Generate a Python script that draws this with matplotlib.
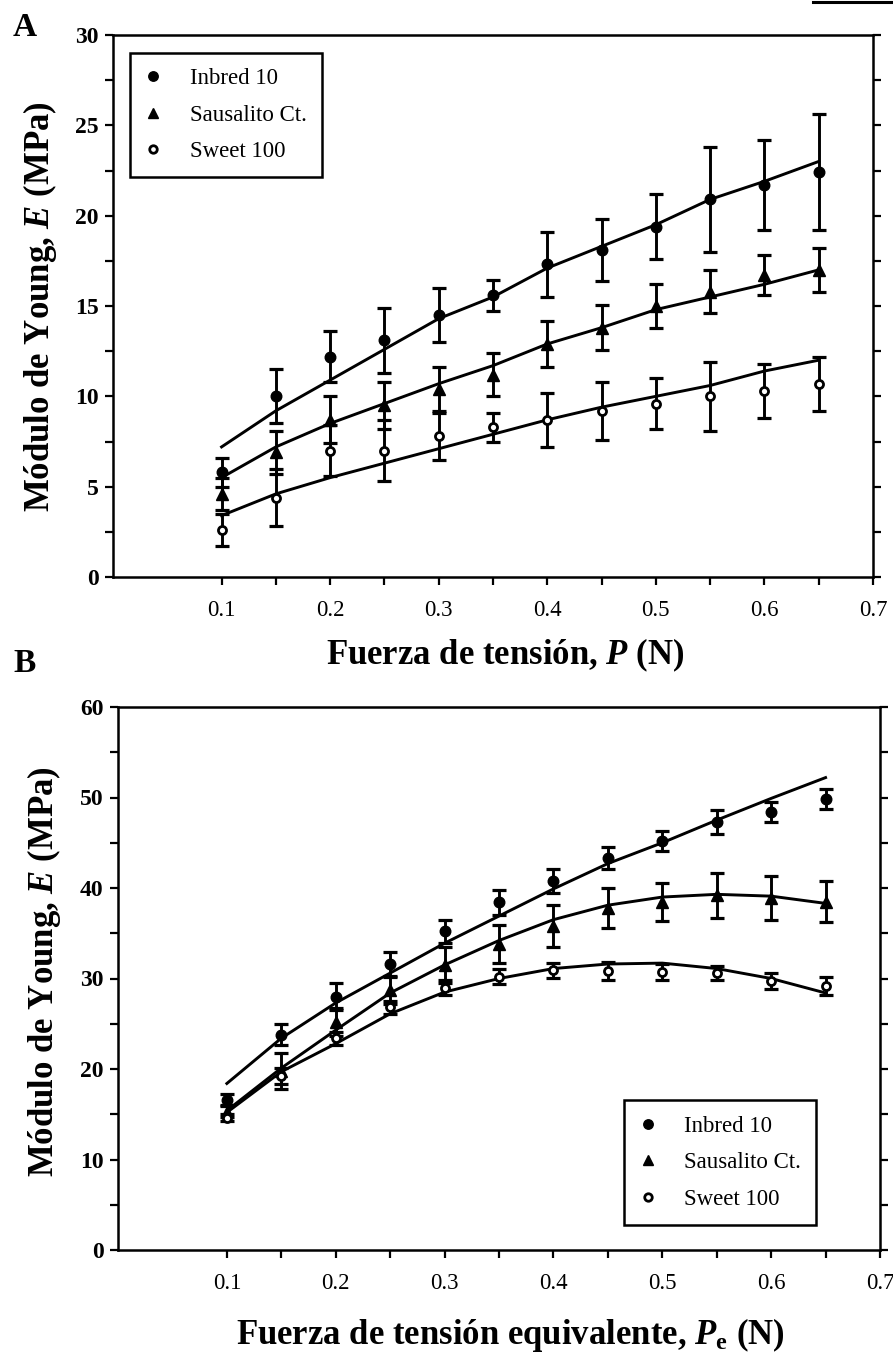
import matplotlib
matplotlib.use('Agg')
import matplotlib.pyplot as plt
from matplotlib.lines import Line2D
from matplotlib.ticker import FixedLocator, MultipleLocator

plt.rcParams['font.family'] = ['Liberation Serif', 'DejaVu Serif']
plt.rcParams['mathtext.fontset'] = 'custom'
plt.rcParams['mathtext.it'] = 'Liberation Serif:italic:bold'
plt.rcParams['mathtext.rm'] = 'Liberation Serif:bold'
plt.rcParams['mathtext.bf'] = 'Liberation Serif:bold'

# ---------------- data ----------------
x_force = [0.10, 0.15, 0.20, 0.25, 0.30, 0.35, 0.40, 0.45, 0.50, 0.55, 0.60, 0.65]
series_names = ['Inbred 10', 'Sausalito Ct.', 'Sweet 100']

# Panel A : Fuerza de tensión, P
a_inbred = [5.8, 10.0, 12.2, 13.1, 14.5, 15.6, 17.3, 18.1, 19.4, 20.9, 21.7, 22.4]
a_inbred_err = [0.8, 1.5, 1.4, 1.8, 1.5, 0.85, 1.8, 1.7, 1.8, 2.9, 2.5, 3.2]
a_inbred_fit = [7.2, 9.2, 10.9, 12.6, 14.3, 15.5, 17.1, 18.3, 19.5, 20.9, 21.9, 23.0]

a_saus = [4.6, 6.9, 8.7, 9.5, 10.4, 11.2, 12.9, 13.8, 15.0, 15.8, 16.7, 17.0]
a_saus_err = [0.9, 1.2, 1.3, 1.3, 1.2, 1.2, 1.25, 1.25, 1.2, 1.2, 1.1, 1.2]
a_saus_fit = [5.5, 7.2, 8.5, 9.6, 10.7, 11.7, 12.9, 13.8, 14.8, 15.5, 16.2, 17.0]

a_sweet = [2.6, 4.4, 7.0, 7.0, 7.8, 8.3, 8.7, 9.2, 9.6, 10.0, 10.3, 10.7]
a_sweet_err = [0.9, 1.6, 1.4, 1.7, 1.3, 0.8, 1.5, 1.6, 1.4, 1.9, 1.5, 1.5]
a_sweet_fit = [3.4, 4.6, 5.5, 6.3, 7.1, 7.9, 8.7, 9.4, 10.0, 10.6, 11.4, 12.0]

# Panel B : Fuerza de tensión equivalente, Pe
b_inbred = [16.6, 23.8, 28.0, 31.6, 35.2, 38.4, 40.8, 43.3, 45.2, 47.3, 48.4, 49.8]
b_inbred_err = [0.6, 1.2, 1.5, 1.3, 1.3, 1.4, 1.3, 1.2, 1.1, 1.3, 1.1, 1.1]
b_inbred_fit = [18.4, 23.4, 27.3, 30.6, 33.9, 36.9, 39.9, 42.7, 45.0, 47.5, 49.9, 52.2]

b_saus = [15.3, 19.8, 25.2, 28.7, 31.5, 33.8, 35.8, 37.8, 38.5, 39.2, 38.9, 38.5]
b_saus_err = [0.6, 2.0, 1.5, 1.5, 2.0, 2.1, 2.3, 2.2, 2.1, 2.5, 2.4, 2.3]
b_saus_fit = [15.4, 20.1, 24.3, 28.4, 31.5, 34.2, 36.5, 38.1, 39.0, 39.3, 39.1, 38.3]

b_sweet = [14.6, 19.2, 23.4, 26.8, 29.0, 30.2, 30.9, 30.8, 30.7, 30.6, 29.7, 29.2]
b_sweet_err = [0.4, 0.9, 0.7, 0.7, 0.8, 0.8, 0.8, 1.0, 0.9, 0.8, 0.9, 1.0]
b_sweet_fit = [15.2, 19.7, 22.8, 26.1, 28.5, 30.0, 31.1, 31.6, 31.7, 31.1, 30.0, 28.4]

x_major = [0.1, 0.2, 0.3, 0.4, 0.5, 0.6, 0.7]
x_minor = [0.15, 0.25, 0.35, 0.45, 0.55, 0.65]
x_labels = ['0.1', '0.2', '0.3', '0.4', '0.5', '0.6', '0.7']

# ---------------- figure ----------------
W, H = 893, 1360
fig = plt.figure(figsize=(W / 100, H / 100), dpi=100)


def px_axes(l, t, r, b):
    return fig.add_axes([l / W, 1 - b / H, (r - l) / W, (b - t) / H])


styles = [
    dict(marker='o', ms=7.6, mfc='black', mec='black', mew=1.0),
    dict(marker='^', ms=8.4, mfc='black', mec='black', mew=1.0),
    dict(marker='o', ms=5.8, mfc='white', mec='black', mew=2.0),
]


def draw_panel(ax, data, ymax, ymaj, ymin_step):
    for (vals, errs, fit), st in zip(data, styles):
        ax.plot(x_force, fit, color='black', lw=2.1, zorder=2)
        ax.errorbar(x_force, vals, yerr=errs, fmt='none', ecolor='black',
                    elinewidth=2.1, capsize=4.7, capthick=2.3, zorder=3)
        ax.plot(x_force, vals, linestyle='none', zorder=4, **st)
    ax.set_xlim(0, 0.7)
    ax.set_ylim(0, ymax)
    ax.xaxis.set_major_locator(FixedLocator(x_major))
    ax.xaxis.set_minor_locator(FixedLocator(x_minor))
    ax.yaxis.set_major_locator(MultipleLocator(ymaj))
    ax.yaxis.set_minor_locator(MultipleLocator(ymin_step))
    ax.set_xticklabels(x_labels)
    ax.tick_params(axis='both', which='both', direction='out', width=1.6,
                   length=5.5, top=False, right=True, labelright=False)
    ax.tick_params(axis='x', labelsize=16.5, pad=11)
    ax.tick_params(axis='y', labelsize=17, pad=5)
    for lab in ax.get_yticklabels():
        lab.set_fontweight('bold')
    for sp in ax.spines.values():
        sp.set_linewidth(1.8)


def legend(ax, **kw):
    handles = [Line2D([], [], linestyle='none', **st) for st in styles]
    handles[0].set_markersize(6.8)
    handles[1].set_markersize(7.8)
    handles[2].set_markersize(5.4)
    lg = ax.legend(handles, series_names, fontsize=16.5, frameon=True,
                   fancybox=False, edgecolor='black', framealpha=1,
                   handlelength=0.75, handletextpad=1.2, labelspacing=0.68,
                   borderpad=0.66, borderaxespad=0, **kw)
    lg.get_frame().set_linewidth(1.8)
    return lg


axA = px_axes(113, 35, 873, 577)
draw_panel(axA, [(a_inbred, a_inbred_err, a_inbred_fit),
                 (a_saus, a_saus_err, a_saus_fit),
                 (a_sweet, a_sweet_err, a_sweet_fit)], 30, 5, 2.5)
legend(axA, loc='upper left', bbox_to_anchor=(0.022, 0.967))

axB = px_axes(118, 707, 880, 1250)
draw_panel(axB, [(b_inbred, b_inbred_err, b_inbred_fit),
                 (b_saus, b_saus_err, b_saus_fit),
                 (b_sweet, b_sweet_err, b_sweet_fit)], 60, 10, 5)
legend(axB, loc='lower left', bbox_to_anchor=(0.664, 0.046))

# axis labels and panel letters
lab_kw = dict(fontsize=25, fontweight='bold', ha='center', va='center')
fig.text(40 / W, 1 - 307 / H, 'Módulo de Young, $E$ (MPa)', rotation=90, **lab_kw)
fig.text(505 / W, 1 - 655 / H, 'Fuerza de tensión, $P$ (N)', **lab_kw)
fig.text(44 / W, 1 - 972 / H, 'Módulo de Young, $E$ (MPa)', rotation=90, **lab_kw)
fig.text(510 / W, 1 - 1335 / H, 'Fuerza de tensión equivalente, $P_{\\mathrm{e}}$ (N)', **lab_kw)
fig.text(25 / W, 1 - 28 / H, 'A', fontsize=24, fontweight='bold', ha='center', va='center')
fig.text(25 / W, 1 - 663 / H, 'B', fontsize=24, fontweight='bold', ha='center', va='center')

# short black rule at top right edge
fig.add_artist(Line2D([813 / W, 1.0], [1 - 2 / H, 1 - 2 / H], transform=fig.transFigure,
                      color='black', lw=2.2))

fig.savefig('out.png', dpi=100)
